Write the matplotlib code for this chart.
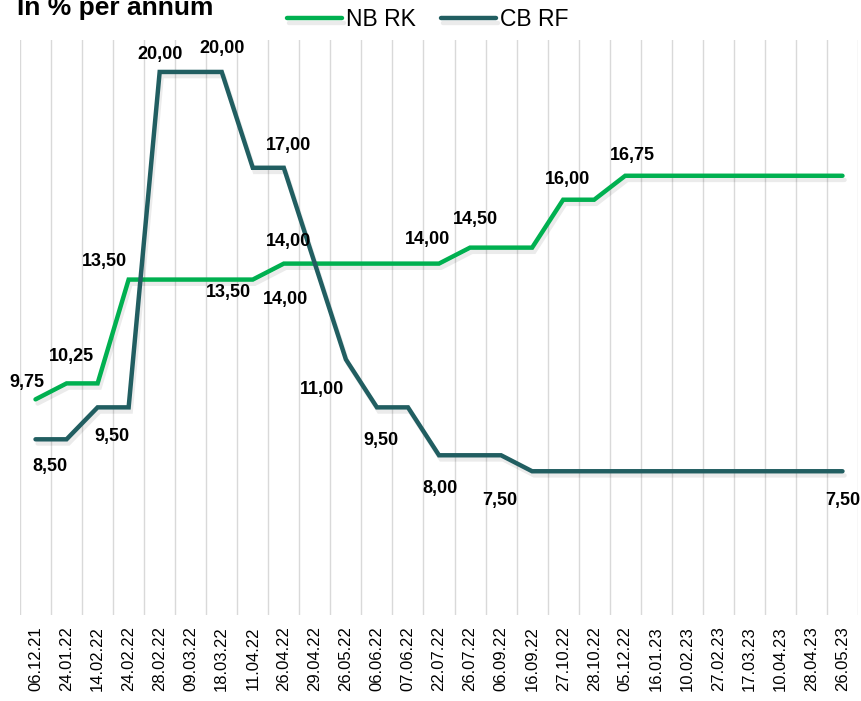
import matplotlib
matplotlib.use("Agg")
import matplotlib.pyplot as plt
import matplotlib.patheffects as pe

plt.rcParams['font.family'] = ['Liberation Sans', 'DejaVu Sans']

dates = ["06.12.21", "24.01.22", "14.02.22", "24.02.22", "28.02.22", "09.03.22",
         "18.03.22", "11.04.22", "26.04.22", "29.04.22", "26.05.22", "06.06.22",
         "07.06.22", "22.07.22", "26.07.22", "06.09.22", "16.09.22", "27.10.22",
         "28.10.22", "05.12.22", "16.01.23", "10.02.23", "27.02.23", "17.03.23",
         "10.04.23", "28.04.23", "26.05.23"]
nb_rk = [9.75, 10.25, 10.25, 13.5, 13.5, 13.5, 13.5, 13.5, 14.0, 14.0, 14.0, 14.0,
         14.0, 14.0, 14.5, 14.5, 14.5, 16.0, 16.0, 16.75, 16.75, 16.75, 16.75, 16.75,
         16.75, 16.75, 16.75]
cb_rf = [8.5, 8.5, 9.5, 9.5, 20.0, 20.0, 20.0, 17.0, 17.0, 14.0, 11.0, 9.5,
         9.5, 8.0, 8.0, 8.0, 7.5, 7.5, 7.5, 7.5, 7.5, 7.5, 7.5, 7.5, 7.5, 7.5, 7.5]

# which points get a value label, and where the label sits (pixel offsets)
nb_labels = [(0, -9, 17), (1, 5, 27), (3, -24, 18), (7, -24, -13), (8, 5, 22),
             (13, -12, 24), (14, 5, 28), (17, 4, 20), (19, 7, 20)]
cb_labels = [(0, 14, -27), (3, -17, -29), (4, 0, 17), (6, 0, 23), (8, 5, 22),
             (9, -29, -36), (10, -24, -30), (11, 4, -33), (13, 1, -33),
             (16, -32, -29), (26, 0, -29)]

GREEN = "#00B050"
TEAL = "#215E61"

fig = plt.figure(figsize=(8.61, 7.01), dpi=100)
ax = fig.add_axes([20 / 861, 86 / 701, 838 / 861, 575 / 701])

x = list(range(len(dates)))
shadow = [pe.SimpleLineShadow(offset=(1.5, -3), shadow_color='#000000', alpha=0.08),
          pe.Normal()]
ax.plot(x, nb_rk, color=GREEN, lw=3.2, solid_capstyle='round', solid_joinstyle='miter',
        label="NB RK", path_effects=shadow, zorder=3)
ax.plot(x, cb_rf, color=TEAL, lw=3.2, solid_capstyle='round', solid_joinstyle='miter',
        label="CB RF", path_effects=shadow, zorder=3)

def fmt(v):
    return f"{v:.2f}".replace(".", ",")

for series, labels in ((nb_rk, nb_labels), (cb_rf, cb_labels)):
    for i, dx, dy in labels:
        ax.annotate(fmt(series[i]), (i, series[i]), xytext=(dx, dy), textcoords='offset pixels',
                    ha='center', va='center', fontsize=13, fontweight='bold', color='#000000',
                    zorder=4)

ax.set_xlim(-0.5, len(dates) - 0.5)
ax.set_ylim(3, 21)
ax.set_xticks(x)
ax.set_xticklabels(dates, rotation=90, fontsize=12)
ax.set_xticks([i + 0.5 for i in range(-1, len(dates))], minor=True)
ax.tick_params(axis='x', which='major', length=0, pad=8)
ax.tick_params(axis='x', which='minor', length=0)
ax.grid(True, axis='x', which='minor', color='#d9d9d9', lw=1)
ax.grid(False, axis='x', which='major')
ax.set_yticks([])
for s in ax.spines.values():
    s.set_visible(False)

fig.text(17 / 861, 1 - 15 / 701, "In % per annum", fontsize=19, fontweight='bold',
         ha='left', va='baseline')
fig.legend(loc='center', bbox_to_anchor=(428 / 861, 1 - 20 / 701), ncol=2, frameon=False,
           fontsize=16.5, handlelength=2.4, handletextpad=0.18, columnspacing=1.1,
           borderaxespad=0)

fig.savefig("out.png", dpi=100)
